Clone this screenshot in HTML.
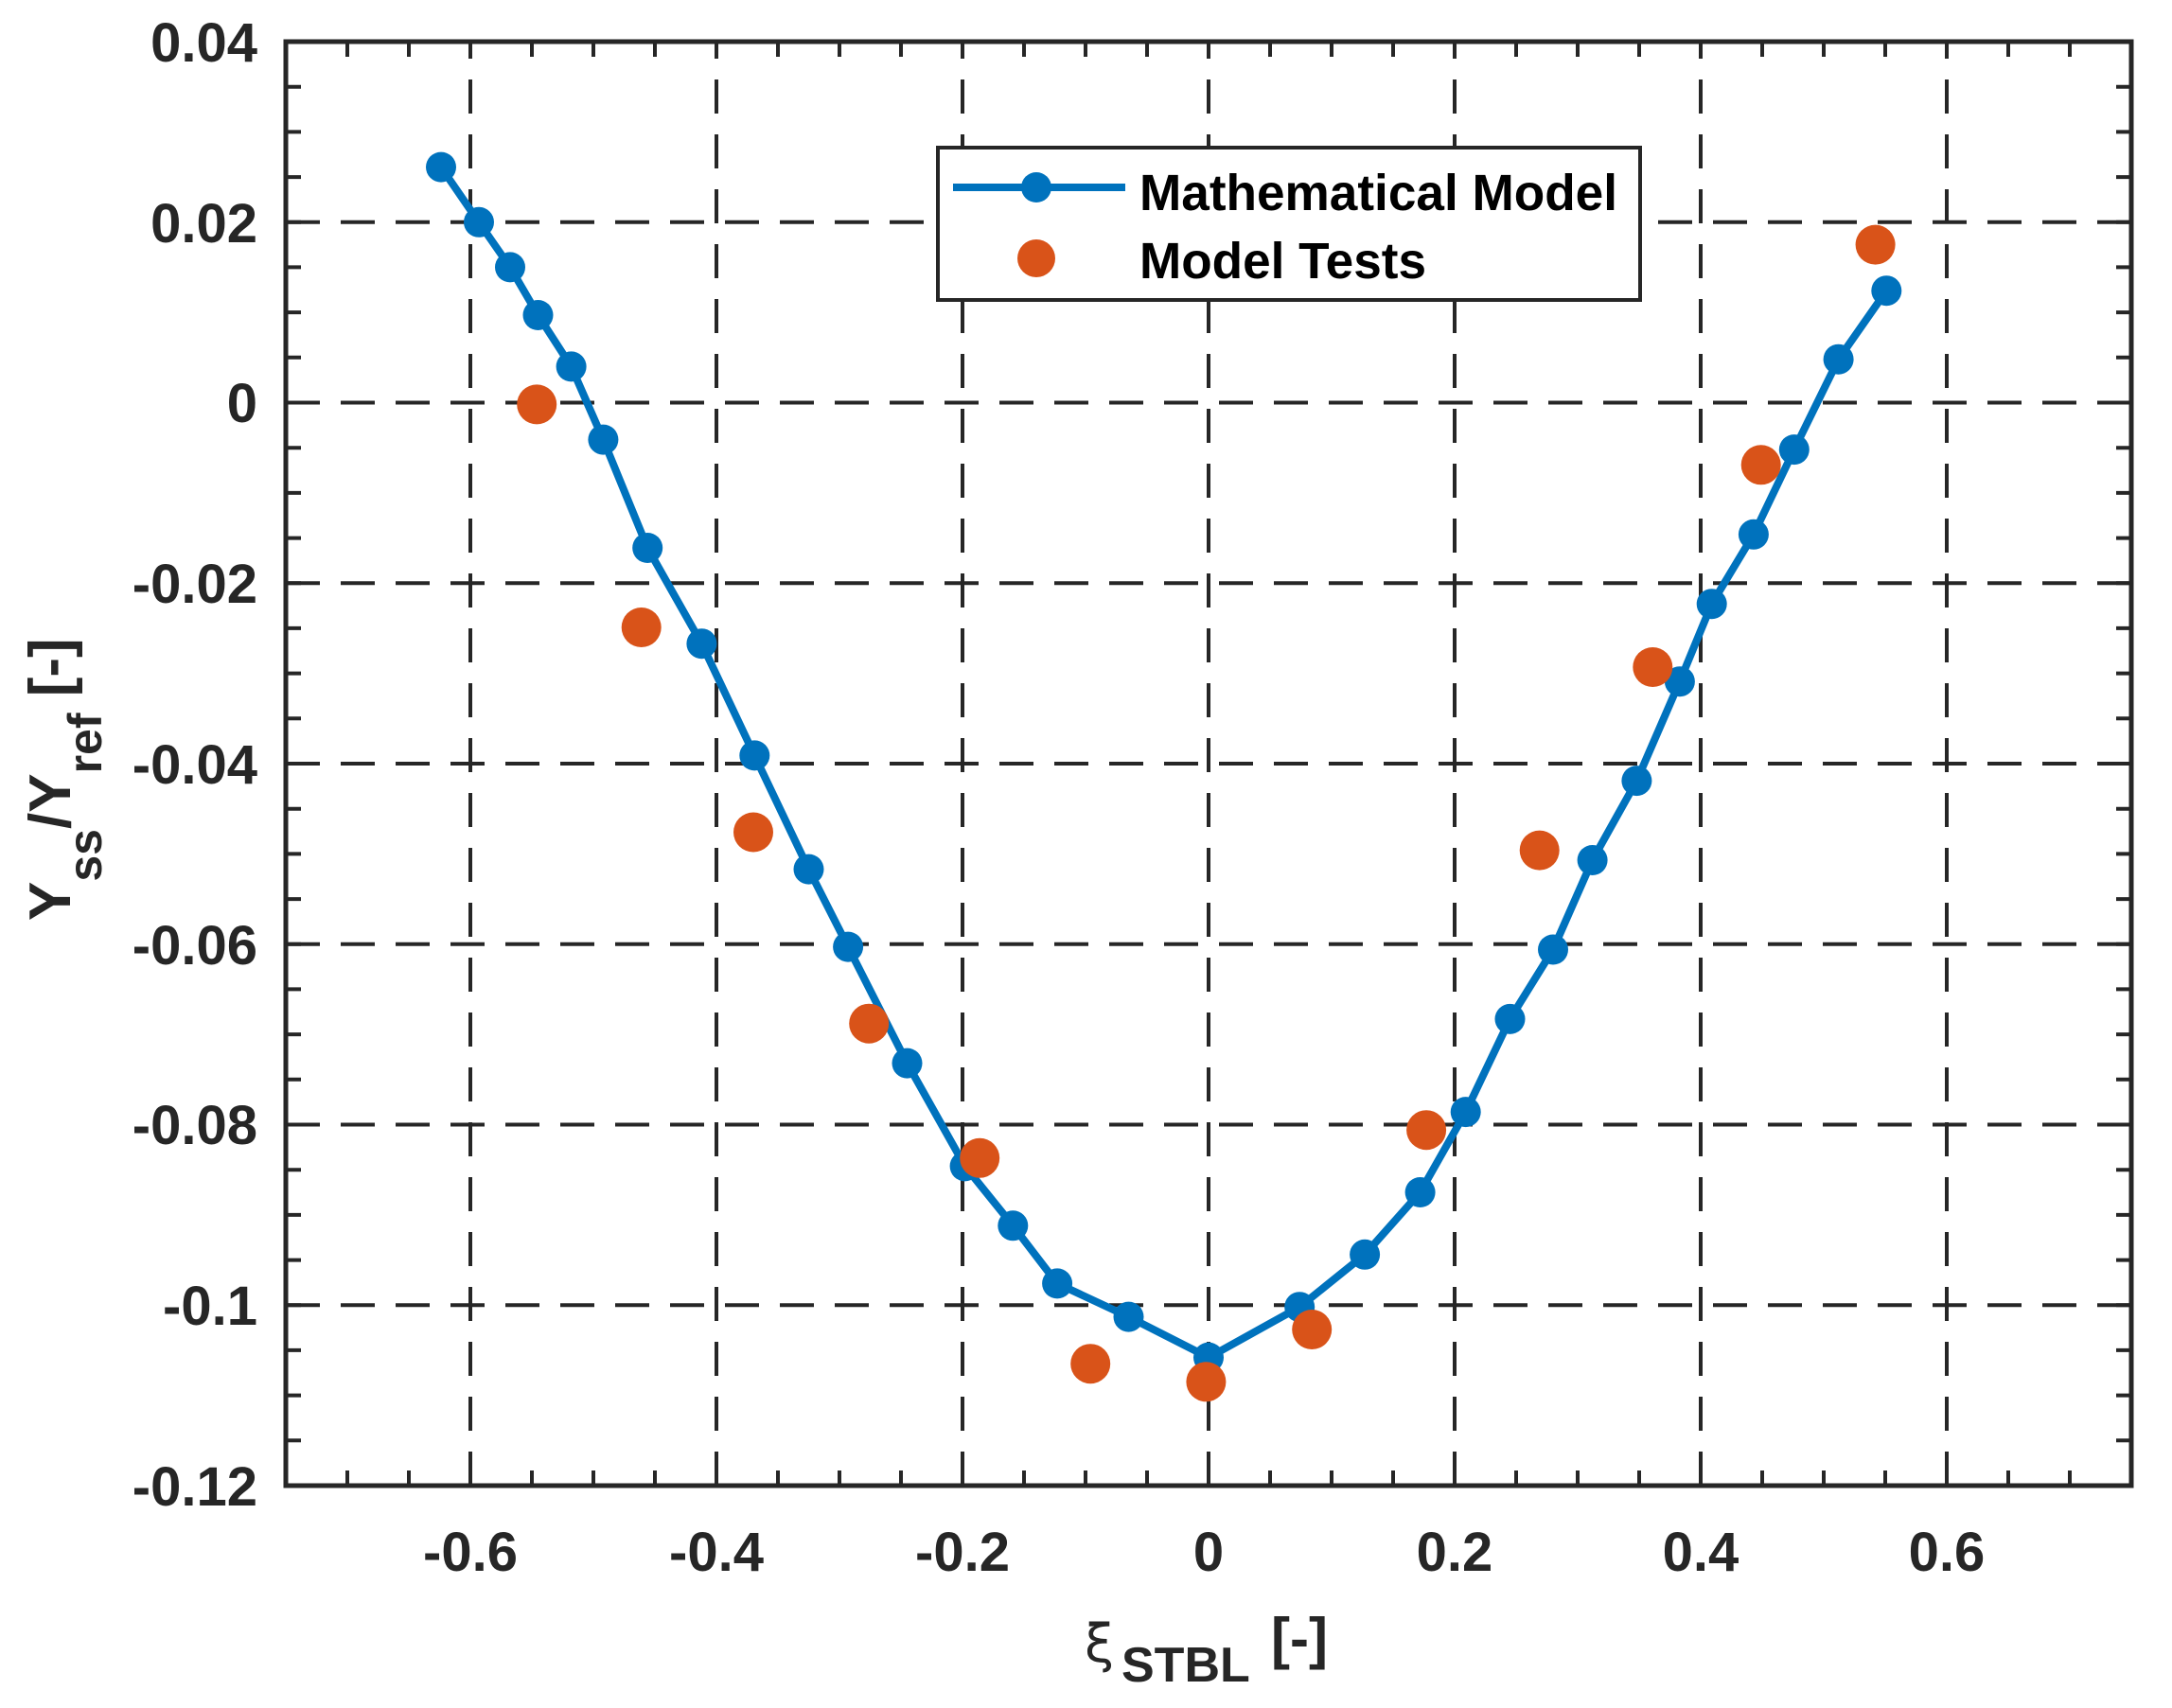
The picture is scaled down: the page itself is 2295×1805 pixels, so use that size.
<!DOCTYPE html>
<html><head><meta charset="utf-8"><style>html,body{margin:0;padding:0;background:#fff}svg{display:block}</style></head>
<body>
<svg width="2295" height="1805" viewBox="0 0 2295 1805" xmlns="http://www.w3.org/2000/svg" font-family="Liberation Sans, Arial, sans-serif">
<rect width="2295" height="1805" fill="#fff"/>
<!-- grid -->
<g stroke="#262626" stroke-width="4" stroke-dasharray="36 22" fill="none">
<line x1="497" y1="1570" x2="497" y2="44"/>
<line x1="757" y1="1570" x2="757" y2="44"/>
<line x1="1017" y1="1570" x2="1017" y2="44"/>
<line x1="1277" y1="1570" x2="1277" y2="44"/>
<line x1="1537" y1="1570" x2="1537" y2="44"/>
<line x1="1797" y1="1570" x2="1797" y2="44"/>
<line x1="2057" y1="1570" x2="2057" y2="44"/>
<line x1="302" y1="234.75" x2="2252" y2="234.75"/>
<line x1="302" y1="425.5" x2="2252" y2="425.5"/>
<line x1="302" y1="616.25" x2="2252" y2="616.25"/>
<line x1="302" y1="807" x2="2252" y2="807"/>
<line x1="302" y1="997.75" x2="2252" y2="997.75"/>
<line x1="302" y1="1188.5" x2="2252" y2="1188.5"/>
<line x1="302" y1="1379.25" x2="2252" y2="1379.25"/>
</g>
<!-- ticks -->
<g stroke="#262626" stroke-width="4">
<path d="M367 1570v-16M432 1570v-16M497 1570v-16M562 1570v-16M627 1570v-16M692 1570v-16M757 1570v-16M822 1570v-16M887 1570v-16M952 1570v-16M1017 1570v-16M1082 1570v-16M1147 1570v-16M1212 1570v-16M1277 1570v-16M1342 1570v-16M1407 1570v-16M1472 1570v-16M1537 1570v-16M1602 1570v-16M1667 1570v-16M1732 1570v-16M1797 1570v-16M1862 1570v-16M1927 1570v-16M1992 1570v-16M2057 1570v-16M2122 1570v-16M2187 1570v-16"/>
<path d="M367 44v16M432 44v16M497 44v16M562 44v16M627 44v16M692 44v16M757 44v16M822 44v16M887 44v16M952 44v16M1017 44v16M1082 44v16M1147 44v16M1212 44v16M1277 44v16M1342 44v16M1407 44v16M1472 44v16M1537 44v16M1602 44v16M1667 44v16M1732 44v16M1797 44v16M1862 44v16M1927 44v16M1992 44v16M2057 44v16M2122 44v16M2187 44v16"/>
<path d="M302 91.7h16M302 139.4h16M302 187.1h16M302 234.75h16M302 282.4h16M302 330.1h16M302 377.8h16M302 425.5h16M302 473.2h16M302 520.9h16M302 568.6h16M302 616.25h16M302 663.9h16M302 711.6h16M302 759.3h16M302 807h16M302 854.7h16M302 902.4h16M302 950.1h16M302 997.75h16M302 1045.4h16M302 1093.1h16M302 1140.8h16M302 1188.5h16M302 1236.2h16M302 1283.9h16M302 1331.6h16M302 1379.25h16M302 1426.9h16M302 1474.6h16M302 1522.3h16"/>
<path d="M2252 91.7h-16M2252 139.4h-16M2252 187.1h-16M2252 234.75h-16M2252 282.4h-16M2252 330.1h-16M2252 377.8h-16M2252 425.5h-16M2252 473.2h-16M2252 520.9h-16M2252 568.6h-16M2252 616.25h-16M2252 663.9h-16M2252 711.6h-16M2252 759.3h-16M2252 807h-16M2252 854.7h-16M2252 902.4h-16M2252 950.1h-16M2252 997.75h-16M2252 1045.4h-16M2252 1093.1h-16M2252 1140.8h-16M2252 1188.5h-16M2252 1236.2h-16M2252 1283.9h-16M2252 1331.6h-16M2252 1379.25h-16M2252 1426.9h-16M2252 1474.6h-16M2252 1522.3h-16"/>
</g>
<rect x="302" y="44" width="1950" height="1526" fill="none" stroke="#262626" stroke-width="5"/>
<!-- model line -->
<polyline fill="none" stroke="#0072BD" stroke-width="8" stroke-linejoin="round" points="466,176.6 506,234.8 539,282.4 568.5,333 603.6,387.4 637.4,464.6 684.2,579 741.4,680.2 797.3,798.4 854.5,918.6 896.1,1000.6 958.5,1123.6 1019.6,1232.4 1070.3,1295.3 1117.1,1356.4 1192.5,1391.6 1277,1434.6 1373.2,1381.2 1442.1,1325.8 1500.6,1260 1548.7,1175.1 1595.5,1076.9 1641,1003.5 1682.6,909 1729.4,825.1 1774.9,720.2 1808.7,638.2 1852.9,564.8 1895.8,475.1 1942.6,379.7 1993.3,307.2"/>
<g fill="#0072BD">
<circle cx="466" cy="176.6" r="16"/><circle cx="506" cy="234.8" r="16"/><circle cx="539" cy="282.4" r="16"/><circle cx="568.5" cy="333" r="16"/><circle cx="603.6" cy="387.4" r="16"/><circle cx="637.4" cy="464.6" r="16"/><circle cx="684.2" cy="579" r="16"/><circle cx="741.4" cy="680.2" r="16"/><circle cx="797.3" cy="798.4" r="16"/><circle cx="854.5" cy="918.6" r="16"/><circle cx="896.1" cy="1000.6" r="16"/><circle cx="958.5" cy="1123.6" r="16"/><circle cx="1019.6" cy="1232.4" r="16"/><circle cx="1070.3" cy="1295.3" r="16"/><circle cx="1117.1" cy="1356.4" r="16"/><circle cx="1192.5" cy="1391.6" r="16"/><circle cx="1277" cy="1434.6" r="16"/><circle cx="1373.2" cy="1381.2" r="16"/><circle cx="1442.1" cy="1325.8" r="16"/><circle cx="1500.6" cy="1260" r="16"/><circle cx="1548.7" cy="1175.1" r="16"/><circle cx="1595.5" cy="1076.9" r="16"/><circle cx="1641" cy="1003.5" r="16"/><circle cx="1682.6" cy="909" r="16"/><circle cx="1729.4" cy="825.1" r="16"/><circle cx="1774.9" cy="720.2" r="16"/><circle cx="1808.7" cy="638.2" r="16"/><circle cx="1852.9" cy="564.8" r="16"/><circle cx="1895.8" cy="475.1" r="16"/><circle cx="1942.6" cy="379.7" r="16"/><circle cx="1993.3" cy="307.2" r="16"/>
</g>
<g fill="#D95319">
<circle cx="567.2" cy="427.4" r="21"/><circle cx="677.7" cy="663" r="21"/><circle cx="796" cy="879.5" r="21"/><circle cx="918.2" cy="1081.7" r="21"/><circle cx="1035.2" cy="1223.8" r="21"/><circle cx="1152.2" cy="1441.2" r="21"/><circle cx="1274.4" cy="1460.3" r="21"/><circle cx="1386.2" cy="1405" r="21"/><circle cx="1507.1" cy="1194.2" r="21"/><circle cx="1626.7" cy="898.6" r="21"/><circle cx="1746.3" cy="705" r="21"/><circle cx="1860.7" cy="491.3" r="21"/><circle cx="1981.6" cy="258.6" r="21"/>
</g>
<!-- legend -->
<rect x="991" y="156" width="742" height="161" fill="#fff" stroke="#262626" stroke-width="4"/>
<line x1="1007" y1="198" x2="1189" y2="198" stroke="#0072BD" stroke-width="8"/>
<circle cx="1095" cy="198" r="16" fill="#0072BD"/>
<circle cx="1095" cy="273" r="20" fill="#D95319"/>
<g font-weight="bold" font-size="54" fill="#000">
<text x="1204" y="222" textLength="505" lengthAdjust="spacingAndGlyphs">Mathematical Model</text>
<text x="1204" y="294" textLength="303" lengthAdjust="spacingAndGlyphs">Model Tests</text>
</g>
<!-- tick labels -->
<g font-weight="bold" font-size="58" fill="#262626" text-anchor="end">
<text x="272" y="65">0.04</text>
<text x="272" y="256">0.02</text>
<text x="272" y="446">0</text>
<text x="272" y="637">-0.02</text>
<text x="272" y="828">-0.04</text>
<text x="272" y="1019">-0.06</text>
<text x="272" y="1209">-0.08</text>
<text x="272" y="1400">-0.1</text>
<text x="272" y="1591">-0.12</text>
</g>
<g font-weight="bold" font-size="58" fill="#262626" text-anchor="middle">
<text x="497" y="1660">-0.6</text>
<text x="757" y="1660">-0.4</text>
<text x="1017" y="1660">-0.2</text>
<text x="1277" y="1660">0</text>
<text x="1537" y="1660">0.2</text>
<text x="1797" y="1660">0.4</text>
<text x="2057" y="1660">0.6</text>
</g>
<!-- axis titles -->
<g fill="#262626">
<text x="1146" y="1756" font-family="DejaVu Sans, sans-serif" font-size="56">ξ</text>
<text x="1185" y="1777" font-weight="bold" font-size="52">STBL</text>
<text x="1343" y="1752" font-weight="bold" font-size="60">[-]</text>
</g>
<text transform="translate(74,973) rotate(-90)" fill="#262626" font-weight="bold" font-size="62">Y<tspan font-size="50" dy="33">ss</tspan><tspan dy="-33">/Y</tspan><tspan font-size="50" dy="33">ref</tspan><tspan dy="-33"> [-]</tspan></text>
</svg>
</body></html>
